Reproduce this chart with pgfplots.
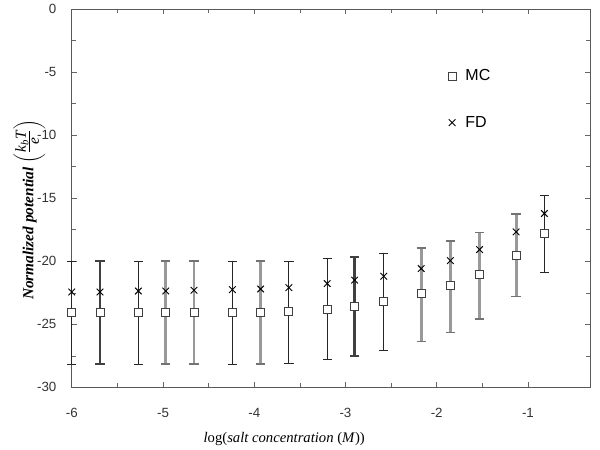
\documentclass[border=0pt]{standalone}
\usepackage{pgfplots}
\pgfplotsset{compat=1.18}
\usepackage{pgfplotstable}
\usepackage{fontspec}
\setmainfont{Liberation Serif}
\newfontfamily\arial{Liberation Sans}
\usetikzlibrary{calc}

% x, MC, error plus, error minus
\pgfplotstableread{
x mc ep em
-6.00 -24.05 4.05 4.12
-5.27 -24.05 4.05 4.12
-4.24 -24.05 4.05 4.12
-3.62 -23.95 3.95 4.15
-3.20 -23.80 4.00 4.00
-2.58 -23.20 3.86 3.89
-0.82 -17.80 3.00 3.10
}\thin
\pgfplotstableread{
x mc ep em
-5.69 -24.05 4.05 4.12
-2.90 -23.55 3.89 3.95
}\dark
\pgfplotstableread{
x mc ep em
-4.97 -24.05 4.05 4.12
-4.66 -24.10 4.10 4.07
-3.93 -24.05 4.05 4.12
-2.17 -22.55 3.61 3.80
-1.85 -21.95 3.56 3.71
-1.53 -21.05 3.33 3.53
-1.13 -19.50 3.25 3.28
}\grey
\pgfplotstableread{
x mc fd
-6.00 -24.05 -22.44
-5.69 -24.05 -22.44
-5.27 -24.05 -22.36
-4.97 -24.05 -22.36
-4.66 -24.10 -22.30
-4.24 -24.05 -22.25
-3.93 -24.05 -22.20
-3.62 -23.95 -22.09
-3.20 -23.80 -21.77
-2.90 -23.55 -21.50
-2.58 -23.20 -21.19
-2.17 -22.55 -20.58
-1.85 -21.95 -19.95
-1.53 -21.05 -19.07
-1.13 -19.50 -17.67
-0.82 -17.80 -16.21
}\pts

\begin{document}
\begin{tikzpicture}
\begin{axis}[
  scale only axis,
  width=388.5pt, height=283.5pt,
  xmin=-6, xmax=-0.32,
  ymin=-30, ymax=0,
  xtick={-6,-5,-4,-3,-2,-1},
  ytick={-30,-25,-20,-15,-10,-5,0},
  minor x tick num=1,
  minor y tick num=1,
  tick align=inside,
  major tick length=4pt,
  minor tick length=3pt,
  tick style={black!60, thin},
  axis line style={black!65, thin},
  /pgf/number format/assume math mode=true,
  ticklabel style={font=\arial\fontsize{10}{12}\selectfont, text=black!80},
  xticklabel style={yshift=-12pt},
  yticklabel style={xshift=-8pt},
  xlabel={\fontsize{11}{13}\selectfont\textit{l}og(\textit{salt concentration} (\textit{M}))},
  xlabel style={at={(axis description cs:0.41,0)}, anchor=north, yshift=-30pt},
  ylabel={\fontsize{11.5}{13}\selectfont\bfseries\itshape Normalized potential
    $\left(\frac{\mbox{\mdseries\itshape k\textsubscript{b}T}}{\mbox{\mdseries\itshape e}}\right)$},
  ylabel style={at={(axis description cs:-0.082,0.47)}, anchor=center},
  legend style={draw=none, fill=none, at={(axis description cs:0.718,0.855)},
    anchor=north west, font=\arial\fontsize{12}{14}\selectfont, row sep=21pt,
    /tikz/every odd column/.append style={column sep=5pt}},
  legend cell align=left,
  clip=false,
]
% error bars
\addplot[forget plot, draw=none, mark=none,
  error bars/.cd, y dir=both, y explicit,
  error bar style={black!85, line width=0.7pt},
  error mark options={rotate=90, mark size=3.5pt, black!85, line width=0.6pt}]
  table[x=x, y=mc, y error plus=ep, y error minus=em]{\thin};
\addplot[forget plot, draw=none, mark=none,
  error bars/.cd, y dir=both, y explicit,
  error bar style={black!75, line width=1.8pt},
  error mark options={rotate=90, mark size=3.5pt, black!75, line width=1.2pt}]
  table[x=x, y=mc, y error plus=ep, y error minus=em]{\dark};
\addplot[forget plot, draw=none, mark=none,
  error bars/.cd, y dir=both, y explicit,
  error bar style={black!40, line width=2.2pt},
  error mark options={rotate=90, mark size=3.5pt, black!55, line width=1.2pt}]
  table[x=x, y=mc, y error plus=ep, y error minus=em]{\grey};
% markers
\addplot[only marks, mark=square*, mark size=3pt,
  mark options={draw=black!75, fill=white, line width=0.7pt}]
  table[x=x, y=mc]{\pts};
\addlegendentry{MC}
\addplot[only marks, mark=x, mark size=3.5pt,
  mark options={draw=black, line width=0.7pt}]
  table[x=x, y=fd]{\pts};
\addlegendentry{FD}
\end{axis}
\useasboundingbox ($(current axis.south west)+(-53.8pt,-43.5pt)$) rectangle ($(current axis.north east)+(7.5pt,6.75pt)$);
\end{tikzpicture}
\end{document}
